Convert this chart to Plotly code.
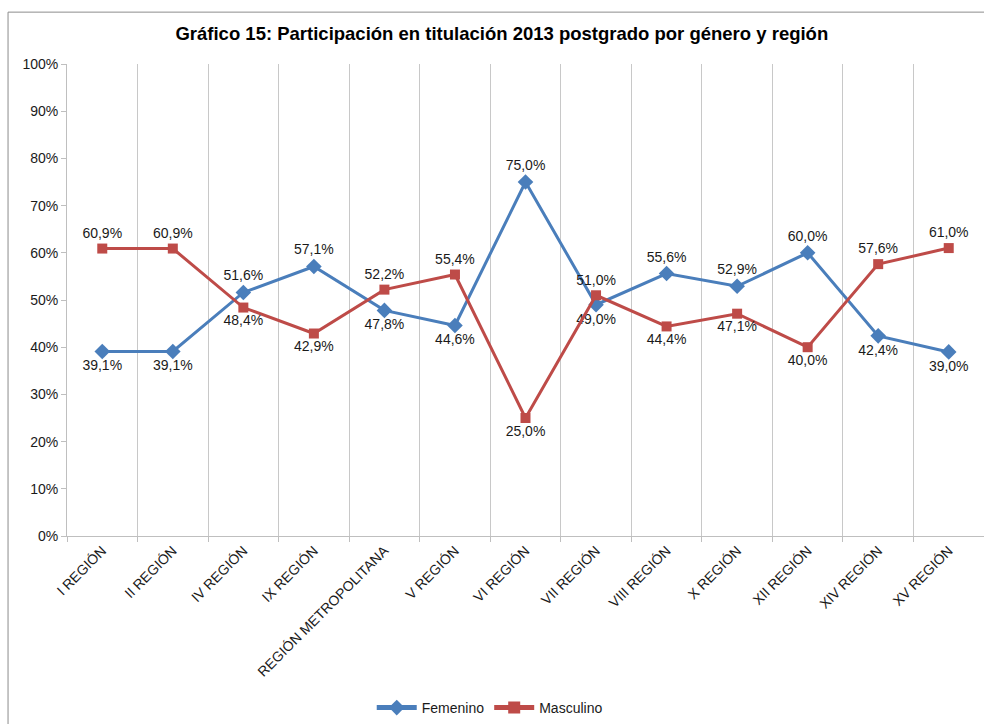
import plotly.graph_objects as go

categories = ["I REGIÓN", "II REGIÓN", "IV REGIÓN", "IX REGIÓN", "REGIÓN METROPOLITANA",
              "V REGIÓN", "VI REGIÓN", "VII REGIÓN", "VIII REGIÓN", "X REGIÓN",
              "XII REGIÓN", "XIV REGIÓN", "XV REGIÓN"]
femenino = [39.1, 39.1, 51.6, 57.1, 47.8, 44.6, 75.0, 49.0, 55.6, 52.9, 60.0, 42.4, 39.0]
masculino = [60.9, 60.9, 48.4, 42.9, 52.2, 55.4, 25.0, 51.0, 44.4, 47.1, 40.0, 57.6, 61.0]
y_ticks = [0, 10, 20, 30, 40, 50, 60, 70, 80, 90, 100]

def fmt(v):
    return f"{v:.1f}%".replace(".", ",")

def positions(own, other):
    return ["top center" if a >= b else "bottom center" for a, b in zip(own, other)]

font = "Liberation Sans, Arial, sans-serif"
fig = go.Figure()
fig.add_trace(go.Scatter(
    x=categories, y=femenino, name="Femenino", mode="lines+markers+text",
    line=dict(color="#4A7EBB", width=3),
    marker=dict(symbol="diamond", size=12, color="#4A7EBB"),
    text=[fmt(v) for v in femenino], textposition=positions(femenino, masculino),
    textfont=dict(size=14, color="#1a1a1a", family=font),
))
fig.add_trace(go.Scatter(
    x=categories, y=masculino, name="Masculino", mode="lines+markers+text",
    line=dict(color="#BE4B48", width=3),
    marker=dict(symbol="square", size=10, color="#BE4B48"),
    text=[fmt(v) for v in masculino], textposition=positions(masculino, femenino),
    textfont=dict(size=14, color="#1a1a1a", family=font),
))

fig.update_layout(
    width=984, height=724,
    margin=dict(l=67, r=0, t=64, b=187),
    paper_bgcolor="white", plot_bgcolor="white",
    font=dict(family=font, size=14, color="#1a1a1a"),
    title=dict(text="<b>Gráfico 15: Participación en titulación 2013 postgrado por género y región</b>",
               x=0.51, xanchor="center", y=0.954, yanchor="middle",
               font=dict(size=18.5, family=font, color="#000000")),
    showlegend=True,
    legend=dict(orientation="h", x=0.461, xanchor="center", y=-0.364, yanchor="middle",
                font=dict(size=14, family=font), itemwidth=40, traceorder="normal",
                itemsizing="constant"),
    xaxis=dict(type="category", tickson="boundaries", showgrid=True, gridcolor="#c8c8c8",
               gridwidth=1, showline=True, linecolor="#bfbfbf", ticks="outside",
               ticklen=5, tickcolor="#bfbfbf", tickangle=-45,
               tickfont=dict(size=14, family=font), range=[-0.5, 12.5]),
    yaxis=dict(range=[0, 100], tickvals=y_ticks, ticktext=[f"{v}%" for v in y_ticks],
               showgrid=False, zeroline=False, showline=True, linecolor="#bfbfbf",
               ticks="outside", ticklen=5, tickcolor="#bfbfbf",
               tickfont=dict(size=14, family=font)),
    shapes=[dict(type="rect", xref="paper", yref="paper",
                 x0=-0.0643, x1=1.01, y0=-0.5, y1=1.1099,
                 line=dict(color="#8c8c8c", width=1), fillcolor="rgba(0,0,0,0)", layer="below")],
)

fig.write_html("out.html", config={"displayModeBar": False},
               post_script="document.body.style.margin='0';")
